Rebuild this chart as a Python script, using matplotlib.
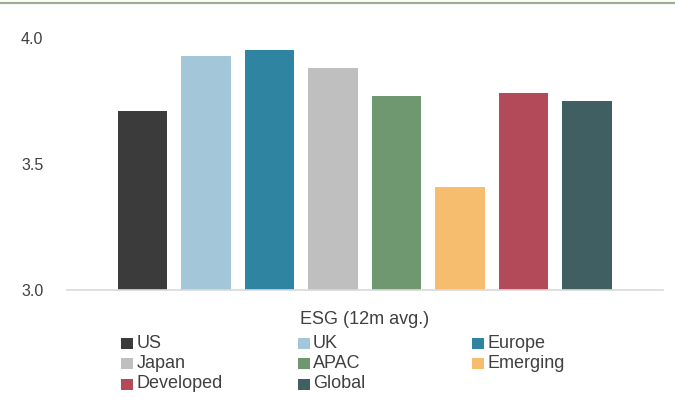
import matplotlib.pyplot as plt
from matplotlib.patches import Rectangle
from matplotlib.lines import Line2D

plt.rcParams['font.family'] = ['Liberation Sans', 'DejaVu Sans']

regions = ["US", "UK", "Europe", "Japan", "APAC", "Emerging", "Developed", "Global"]
esg_scores = [3.71, 3.93, 3.95, 3.88, 3.77, 3.41, 3.78, 3.75]
colors = ["#3b3b3b", "#a3c7d9", "#2e84a1", "#bfbfbf", "#6f9770", "#f7bd6f", "#b24a5a", "#405f62"]
y_ticks = [3.0, 3.5, 4.0]
legend_title = "ESG (12m avg.)"

W, H = 675, 403
TXT = "#404040"


def fx(px):
    return px / W


def fy(py):
    return 1 - py / H


fig = plt.figure(figsize=(6.75, 4.03), dpi=100)
ax = fig.add_axes([0.099, 0.280, 0.883, 0.626])

x = list(range(len(regions)))
ax.bar(x, esg_scores, width=0.78, color=colors)
ax.set_ylim(3.0, 4.0)
ax.set_xlim(-1.19, 8.19)
ax.set_yticks(y_ticks)
ax.set_yticklabels([f"{v:.1f}" for v in y_ticks], color=TXT, fontsize=11.5)
ax.set_xticks([])
ax.tick_params(axis="y", length=0, pad=17)
for side in ["top", "right", "left"]:
    ax.spines[side].set_visible(False)
ax.spines["bottom"].set_color("#d9d9d9")
ax.spines["bottom"].set_linewidth(1.2)

# top rule
fig.add_artist(Line2D([0, 1], [fy(3), fy(3)], color="#9bb08f", lw=1.6,
                      transform=fig.transFigure))

# legend laid out row by row, 3 columns
fig.text(fx(365), fy(320), legend_title, ha="center", va="center",
         fontsize=13, color=TXT)
col_sq = [121, 298, 472]
col_txt = [137, 313, 488]
row_y = [343, 363.5, 384]
for i, (name, c) in enumerate(zip(regions, colors)):
    r, k = divmod(i, 3)
    fig.add_artist(Rectangle((fx(col_sq[k]), fy(row_y[r] + 5.5)), 12 / W, 11 / H,
                             facecolor=c, edgecolor="none",
                             transform=fig.transFigure))
    fig.text(fx(col_txt[k]), fy(row_y[r]), name, ha="left", va="center",
             fontsize=13, color=TXT)

fig.savefig("out.png", dpi=100)
